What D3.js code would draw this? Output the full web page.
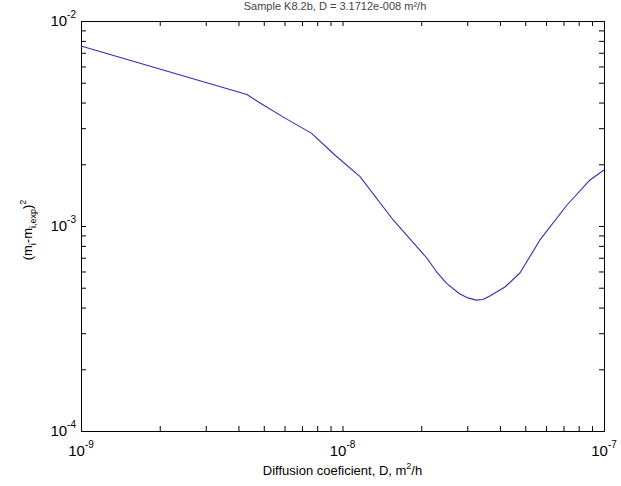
<!DOCTYPE html>
<html lang="en">
<head>
  <meta charset="UTF-8">
  <title>Diffusion fit</title>
  <script src="https://d3js.org/d3.v7.min.js"></script>
  <style>
    body { margin: 0; background: #fff; }
    text { font-family: "Liberation Sans", Arial, sans-serif; fill: #000; }
  </style>
</head>
<body>
  <script>
    // values
    const diffCoef = [1.00e-9, 4.31e-9, 4.84e-9, 6.03e-9, 7.62e-9, 9.35e-9, 1.167e-8, 1.563e-8, 2.10e-8,
      2.278e-8, 2.50e-8, 2.81e-8, 3.02e-8, 3.24e-8, 3.445e-8, 3.66e-8, 4.18e-8, 4.77e-8, 5.69e-8,
      7.22e-8, 8.84e-8, 1.00e-7];
    const sqError = [7.55e-3, 4.38e-3, 3.98e-3, 3.36e-3, 2.83e-3, 2.22e-3, 1.74e-3, 1.07e-3, 6.98e-4,
      6.03e-4, 5.25e-4, 4.66e-4, 4.46e-4, 4.35e-4, 4.38e-4, 4.56e-4, 5.04e-4, 5.90e-4, 8.55e-4,
      1.266e-3, 1.677e-3, 1.875e-3];
    const xMajor = [-9, -8, -7];   // exponents
    const yMajor = [-4, -3, -2];

    const width = 621, height = 486;
    const plotL = 81, plotR = 604, plotT = 21, plotB = 431;

    var svg = d3.select("body").append("svg")
      .attr("width", width)
      .attr("height", height);

    const x = d3.scaleLog().domain([1e-9, 1e-7]).range([plotL, plotR]);
    const y = d3.scaleLog().domain([1e-4, 1e-2]).range([plotB, plotT]);

    // all log ticks (1..9 per decade)
    function logTicks(lo, hi) {
      var t = [];
      for (var e = lo; e < hi; e++) {
        for (var m = 1; m < 10; m++) t.push(m * Math.pow(10, e));
      }
      t.push(Math.pow(10, hi));
      return t;
    }
    const xTicks = logTicks(-9, -7);
    const yTicks = logTicks(-4, -2);

    // tick marks on all four sides, pointing inward
    function styleAxis(g) {
      g.select(".domain").remove();
      g.selectAll("line").attr("stroke", "#000");
    }
    svg.append("g").attr("transform", "translate(0," + plotB + ")")
      .call(d3.axisBottom(x).tickValues(xTicks).tickSize(-5).tickFormat("")).call(styleAxis);
    svg.append("g").attr("transform", "translate(0," + plotT + ")")
      .call(d3.axisTop(x).tickValues(xTicks).tickSize(-5).tickFormat("")).call(styleAxis);
    svg.append("g").attr("transform", "translate(" + plotL + ",0)")
      .call(d3.axisLeft(y).tickValues(yTicks).tickSize(-5).tickFormat("")).call(styleAxis);
    svg.append("g").attr("transform", "translate(" + plotR + ",0)")
      .call(d3.axisRight(y).tickValues(yTicks).tickSize(-5).tickFormat("")).call(styleAxis);

    // frame
    svg.append("rect")
      .attr("x", plotL + 0.5).attr("y", plotT + 0.5)
      .attr("width", plotR - plotL).attr("height", plotB - plotT)
      .attr("fill", "none").attr("stroke", "#000");

    // curve
    const line = d3.line()
      .x((d, i) => x(diffCoef[i]))
      .y((d, i) => y(sqError[i]));
    svg.append("path")
      .datum(diffCoef)
      .attr("d", line)
      .attr("fill", "none")
      .attr("stroke", "#2f2fb4")
      .attr("stroke-width", 1.1)
      .attr("stroke-linejoin", "round");

    // x tick labels 10^e
    xMajor.forEach(function (e) {
      var t = svg.append("text")
        .attr("x", x(Math.pow(10, e)))
        .attr("y", 456)
        .attr("text-anchor", "middle")
        .style("font-size", "15px");
      t.append("tspan").text("10");
      t.append("tspan").attr("dy", -8).style("font-size", "10px").text(e);
    });

    // y tick labels
    yMajor.forEach(function (e) {
      var t = svg.append("text")
        .attr("x", 76)
        .attr("y", y(Math.pow(10, e)) + 5)
        .attr("text-anchor", "end")
        .style("font-size", "15px");
      t.append("tspan").text("10");
      t.append("tspan").attr("dy", -8).style("font-size", "10px").text(e);
    });

    // x label
    var xl = svg.append("text")
      .attr("x", (plotL + plotR) / 2)
      .attr("y", 475)
      .attr("text-anchor", "middle")
      .style("font-size", "13px");
    xl.append("tspan").text("Diffusion coeficient, D, m");
    xl.append("tspan").attr("dy", -6).style("font-size", "9px").text("2");
    xl.append("tspan").attr("dy", 6).text("/h");

    // y label
    var yl = svg.append("text")
      .attr("transform", "translate(32," + ((plotT + plotB) / 2 + 4) + ")rotate(-90)")
      .attr("text-anchor", "middle")
      .style("font-size", "13px");
    yl.append("tspan").text("(m");
    yl.append("tspan").attr("dy", 4).style("font-size", "9px").text("i");
    yl.append("tspan").attr("dy", -4).text("-m");
    yl.append("tspan").attr("dy", 4).style("font-size", "9px").text("i,exp");
    yl.append("tspan").attr("dy", -4).text(")");
    yl.append("tspan").attr("dy", -6).style("font-size", "9px").text("2");

    // title at the very top
    svg.append("text")
      .attr("x", 335)
      .attr("y", 10)
      .attr("text-anchor", "middle")
      .style("font-size", "11px")
      .style("fill", "#444")
      .text("Sample K8.2b, D = 3.1712e-008 m²/h");
  </script>
</body>
</html>
